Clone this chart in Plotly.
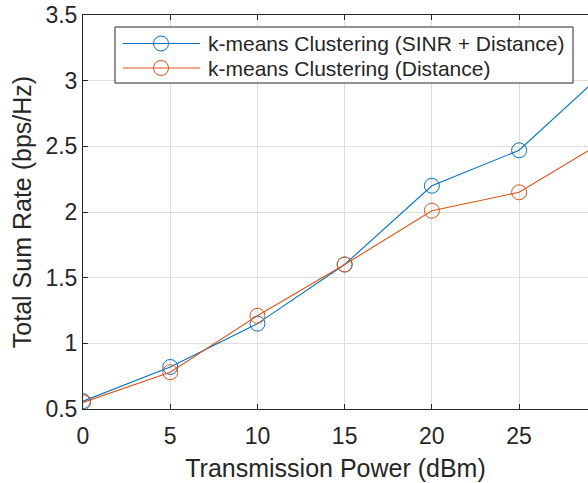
import plotly.graph_objects as go

power_dbm = [0, 5, 10, 15, 20, 25, 30]
rate_sinr_distance = [0.56, 0.82, 1.15, 1.60, 2.20, 2.47, 3.08]
rate_distance = [0.55, 0.78, 1.21, 1.60, 2.01, 2.15, 2.55]
series_names = ["k-means Clustering (SINR + Distance)", "k-means Clustering (Distance)"]
series_colors = ["#0072BD", "#D95319"]
x_ticks = [0, 5, 10, 15, 20, 25]
y_ticks = [0.5, 1, 1.5, 2, 2.5, 3, 3.5]
y_tick_labels = ["0.5", "1", "1.5", "2", "2.5", "3", "3.5"]

W, H = 588, 483
ML, MR, MT, MB = 83, 0, 15, 74
PW, PH = W - ML - MR, H - MT - MB

def px_x(p):
    return (p - ML) / PW

def px_y(p):
    return 1 - (p - MT) / PH

FONT = "Liberation Sans, Arial, Helvetica, sans-serif"
TXT = "#262626"

fig = go.Figure()
for name, ys, col in zip(series_names, [rate_sinr_distance, rate_distance], series_colors):
    fig.add_trace(go.Scatter(
        x=power_dbm, y=ys, name=name, mode="lines+markers",
        line=dict(color=col, width=1.1),
        marker=dict(symbol="circle-open", size=15, color=col, line=dict(width=1, color=col)),
        showlegend=False,
    ))

axis_common = dict(
    showgrid=True, gridcolor="#dedede", gridwidth=1,
    showline=True, linecolor=TXT, linewidth=1,
    ticks="inside", ticklen=5, tickcolor=TXT,
    tickfont=dict(family=FONT, size=23, color=TXT),
    zeroline=False, automargin=False,
)

fig.update_xaxes(
    **axis_common, range=[0, 28.95], tickvals=x_ticks, mirror="ticks",
    title=dict(text="Transmission Power (dBm)", font=dict(family=FONT, size=25, color=TXT), standoff=11),
    ticklabelstandoff=6,
)
fig.update_yaxes(
    **axis_common, range=[0.5, 3.5], tickvals=y_ticks, ticktext=y_tick_labels,
    title=dict(text="Total Sum Rate (bps/Hz)", font=dict(family=FONT, size=25, color=TXT), standoff=6),
)

# legend drawn as shapes/annotations to match original geometry
shapes = [dict(type="rect", xref="paper", yref="paper",
               x0=px_x(115), x1=px_x(573), y0=px_y(83), y1=px_y(27),
               line=dict(color=TXT, width=1), fillcolor="white", layer="above")]
annotations = []
row_y = [43.5, 68]
for name, col, ry in zip(series_names, series_colors, row_y):
    shapes.append(dict(type="line", xref="paper", yref="paper",
                       x0=px_x(123), x1=px_x(200), y0=px_y(ry), y1=px_y(ry),
                       line=dict(color=col, width=1.1), layer="above"))
    shapes.append(dict(type="circle", xref="paper", yref="paper",
                       xsizemode="pixel", ysizemode="pixel",
                       xanchor=px_x(161), yanchor=px_y(ry),
                       x0=-7.5, x1=7.5, y0=-7.5, y1=7.5,
                       line=dict(color=col, width=1), fillcolor="rgba(0,0,0,0)", layer="above"))
    annotations.append(dict(xref="paper", yref="paper", x=px_x(206), y=px_y(ry),
                            xanchor="left", yanchor="middle", showarrow=False,
                            text=name, font=dict(family=FONT, size=21, color=TXT)))

fig.update_layout(
    width=W, height=H,
    margin=dict(l=ML, r=MR, t=MT, b=MB, pad=0),
    paper_bgcolor="white", plot_bgcolor="white",
    shapes=shapes, annotations=annotations,
    showlegend=False,
)

fig.write_html("out.html", config={"displayModeBar": False, "staticPlot": True},
               post_script="document.body.style.margin='0';document.body.style.overflow='hidden';")
